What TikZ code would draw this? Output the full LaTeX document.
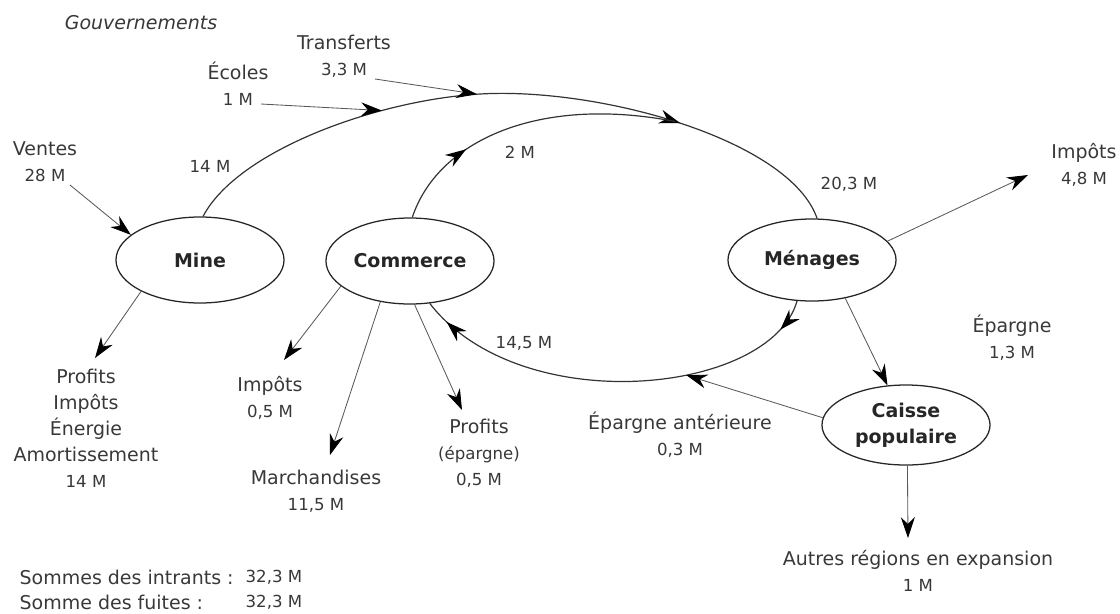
\documentclass[tikz,border=0pt]{standalone}
\usepackage{fontspec}
\setmainfont{DejaVu Sans}
\usetikzlibrary{arrows.meta,shapes.geometric,decorations.markings}
\newcommand\amt[1]{{\fontsize{11.8}{18.5}\selectfont #1}}

\begin{document}
\begin{tikzpicture}[
  x=0.025cm,y=-0.025cm,
  font=\fontsize{13.5}{18.5}\selectfont,
  sector/.style={ellipse,draw=black!85,line width=0.9pt,inner sep=0pt,
                 minimum width=4.2cm,minimum height=2.15cm,align=center,
                 font=\fontsize{13.5}{18.5}\selectfont\bfseries,text=black!85},
  lbl/.style={align=center,inner sep=1pt,text=black!78},
  arrow/.style={draw=black!65,line width=0.6pt,
                -{Stealth[length=5.2mm,width=3.5mm,color=black]}},
  circuit/.style={draw=black!80,line width=0.85pt},
  midtip/.style={postaction={decorate,decoration={markings,
                 mark=at position #1 with {\arrow{Stealth[length=5.2mm,width=3.5mm,color=black]}}}}}
]
\useasboundingbox (0,0) rectangle (1120,613);

% secteurs
\node[sector] (mine) at (200,260) {Mine};
\node[sector] (commerce) at (410,261) {Commerce};
\node[sector,minimum height=2.05cm] (menages) at (812,260) {Ménages};
\node[sector,minimum height=2cm] (caisse) at (906,425) {Caisse\\populaire};

% libelles
\node[lbl,font=\fontsize{13.5}{18.5}\selectfont\itshape] (gouv) at (141,23) {Gouvernements};
\node[lbl] (transferts) at (344,56) {Transferts\\\amt{3,3 M}};
\node[lbl] (ecoles) at (238,84) {Écoles\\\amt{1 M}};
\node[lbl] (ventes) at (45,162) {Ventes\\\amt{28 M}};
\node[lbl] (minefuite) at (86,428) {Profits\\Impôts\\Énergie\\Amortissement\\\amt{14 M}};
\node[lbl] (impc) at (270,398) {Impôts\\\amt{0,5 M}};
\node[lbl] (march) at (316,491) {Marchandises\\\amt{11,5 M}};
\node[lbl] (profc) at (479,453) {Profits\\\amt{(épargne)}\\\amt{0,5 M}};
\node[lbl] (impm) at (1084,165) {Impôts\\\amt{4,8 M}};
\node[lbl] (epargne) at (1012,338) {Épargne\\\amt{1,3 M}};
\node[lbl] (epant) at (680,435) {Épargne antérieure\\\amt{0,3 M}};
\node[lbl] (autres) at (918,571) {Autres régions en expansion\\\amt{1 M}};

\node[lbl] (v14) at (210,166) {\amt{14 M}};
\node[lbl] (v2) at (520,152) {\amt{2 M}};
\node[lbl] (v203) at (849,184) {\amt{20,3 M}};
\node[lbl] (v145) at (524,343) {\amt{14,5 M}};

\node[lbl,anchor=west] (intrants) at (18,577) {Sommes des intrants :};
\node[lbl,anchor=west] (intrantsv) at (244,577) {\amt{32,3 M}};
\node[lbl,anchor=west] (fuites) at (18,602) {Somme des fuites :};
\node[lbl,anchor=west] (fuitesv) at (244,602) {\amt{32,3 M}};

% circuit principal
\draw[circuit,midtip=0.75] (mine.86) .. controls (238,150) and (378,100) .. (480,94)
  coordinate[pos=0.7] (ecolesto) coordinate[pos=0.99] (transto)
  .. controls (600,87) and (790,140) .. (menages.83)
  coordinate[pos=0.48] (merge);
\draw[circuit,midtip=0.29] (commerce.87) .. controls (438,140) and (540,95) .. (merge);
\draw[circuit,midtip=0.08,midtip=0.94] (menages.250) .. controls (770,395) and (520,420) .. (commerce.295)
  coordinate[pos=0.39] (epantto);

% entrees et fuites
\coordinate (ventesfrom) at (70,185);
\coordinate (ecolesfrom) at (261,104);
\coordinate (transfrom) at (375,79);
\coordinate (minefuiteto) at (95,358);
\coordinate (impcto) at (284,360);
\coordinate (marchto) at (330,455);
\coordinate (profcto) at (462,410);
\coordinate (impmto) at (1028,175);
\coordinate (autresto) at (908,538);

\draw[arrow] (ventesfrom) -- (mine.160);
\draw[arrow] (ecolesfrom) -- (ecolesto);
\draw[arrow] (transfrom) -- (transto);
\draw[arrow] (mine.208) -- (minefuiteto);
\draw[arrow] (commerce.200) -- (impcto);
\draw[arrow] (commerce.234) -- (marchto);
\draw[arrow] (commerce.276) -- (profcto);
\draw[arrow] (menages.14) -- (impmto);
\draw[arrow] (menages.311) -- (caisse.115);
\draw[arrow] (caisse.175) -- (epantto);
\draw[arrow] (caisse.272) -- (autresto);
\end{tikzpicture}
\end{document}
